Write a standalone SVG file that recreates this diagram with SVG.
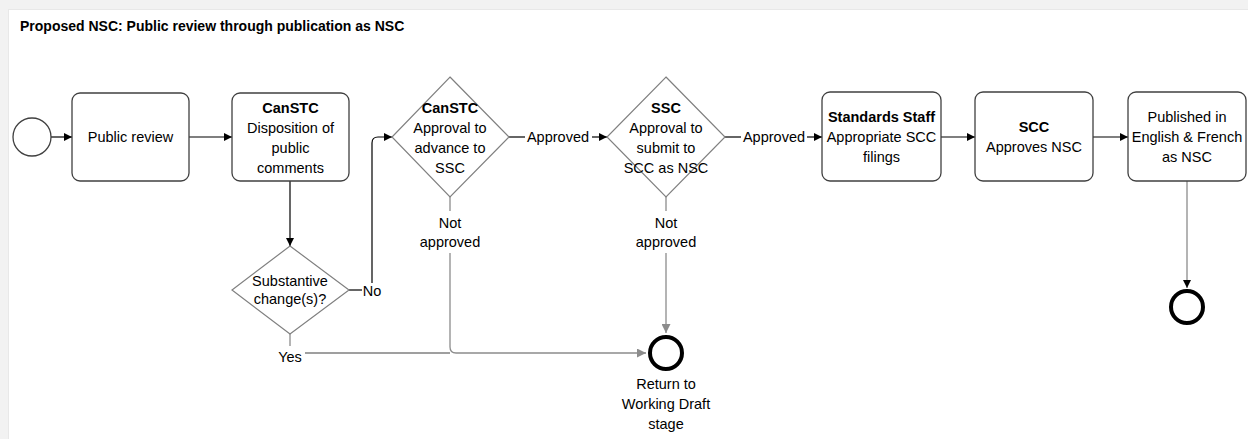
<svg xmlns="http://www.w3.org/2000/svg" width="1248" height="439" viewBox="0 0 1248 439">
<defs>
<style>
.t{font-family:"Liberation Sans",Arial,sans-serif;font-size:14.5px;fill:#000;text-anchor:middle}
.b{font-weight:bold}
.box{fill:#fff;stroke:#404040;stroke-width:1.3}
.dia{fill:#fff;stroke:#808080;stroke-width:1.2}
.c{fill:none;stroke:#000;stroke-width:1.2}
.g{fill:none;stroke:#8c8c8c;stroke-width:1.3}
</style>
<marker id="ah" viewBox="0 0 10 10" refX="10" refY="5" markerWidth="8" markerHeight="8" markerUnits="userSpaceOnUse" orient="auto"><path d="M0,0L10,5L0,10z" fill="#000"/></marker>
<marker id="ahg" viewBox="0 0 10 10" refX="10" refY="5" markerWidth="9" markerHeight="9" markerUnits="userSpaceOnUse" orient="auto"><path d="M0,0L10,5L0,10z" fill="#8c8c8c"/></marker>
</defs>
<rect x="0" y="0" width="1248" height="439" fill="#f2f2f2"/>
<rect x="8" y="9" width="1240" height="430" fill="#e8e8e8"/>
<rect x="9" y="10" width="1239" height="429" fill="#fff"/>
<text class="t b" x="20" y="31" style="text-anchor:start;font-size:14px">Proposed NSC: Public review through publication as NSC</text>

<g id="connectors">
<line class="c" x1="51" y1="137" x2="72" y2="137" marker-end="url(#ah)"/>
<line class="c" x1="189" y1="137" x2="232" y2="137" marker-end="url(#ah)"/>
<line class="c" x1="290" y1="181" x2="290" y2="246" marker-end="url(#ah)"/>
<line class="c" x1="349" y1="290" x2="362" y2="290"/>
<path class="c" d="M372,283 V143 Q372,137 378,137 H392" marker-end="url(#ah)"/>
<line class="c" x1="509" y1="137" x2="525" y2="137"/>
<line class="c" x1="592" y1="137" x2="607" y2="137" marker-end="url(#ah)"/>
<line class="c" x1="725" y1="137" x2="741" y2="137"/>
<line class="c" x1="807" y1="137" x2="822" y2="137" marker-end="url(#ah)"/>
<line class="c" x1="941" y1="137" x2="975" y2="137" marker-end="url(#ah)"/>
<line class="c" x1="1093" y1="137" x2="1128" y2="137" marker-end="url(#ah)"/>
<line class="g" x1="290" y1="334" x2="290" y2="346"/>
<line class="c" x1="305" y1="353" x2="450" y2="353" style="stroke:#404040"/>
<line class="g" x1="450" y1="197" x2="450" y2="211"/>
<path class="g" d="M450,253 V347 Q450,353 456,353 H646" marker-end="url(#ahg)"/>
<line class="g" x1="666" y1="197" x2="666" y2="211"/>
<line class="g" x1="666" y1="253" x2="666" y2="333" marker-end="url(#ahg)"/>
<line class="g" x1="1187" y1="181" x2="1187" y2="288" marker-end="url(#ah)"/>
</g>

<g id="start"><circle cx="32" cy="137" r="19" fill="#fff" stroke="#404040" stroke-width="1.3"/></g>

<g id="public-review">
<rect class="box" x="72" y="93" width="117" height="88" rx="8"/>
<text class="t" x="130.5" y="142">Public review</text>
</g>

<g id="canstc-disposition">
<rect class="box" x="232" y="93" width="117" height="88" rx="8"/>
<text class="t b" x="290.5" y="113">CanSTC</text>
<text class="t" x="290.5" y="133">Disposition of</text>
<text class="t" x="290.5" y="153">public</text>
<text class="t" x="290.5" y="173">comments</text>
</g>

<g id="substantive">
<polygon class="dia" points="290,246 349,290 290,334 232,290"/>
<text class="t" x="290" y="286">Substantive</text>
<text class="t" x="290" y="304">change(s)?</text>
</g>

<g id="canstc-approval">
<polygon class="dia" points="450,77 509,137 450,197 392,137"/>
<text class="t b" x="450" y="113">CanSTC</text>
<text class="t" x="450" y="133">Approval to</text>
<text class="t" x="450" y="153">advance to</text>
<text class="t" x="450" y="173">SSC</text>
</g>

<g id="ssc-approval">
<polygon class="dia" points="666,77 725,137 666,197 607,137"/>
<text class="t b" x="666" y="113">SSC</text>
<text class="t" x="666" y="133">Approval to</text>
<text class="t" x="666" y="153">submit to</text>
<text class="t" x="666" y="173">SCC as NSC</text>
</g>

<g id="standards-staff">
<rect class="box" x="822" y="92" width="119" height="89" rx="8"/>
<text class="t b" x="881.5" y="122">Standards Staff</text>
<text class="t" x="881.5" y="142">Appropriate SCC</text>
<text class="t" x="881.5" y="162">filings</text>
</g>

<g id="scc">
<rect class="box" x="975" y="92" width="118" height="89" rx="8"/>
<text class="t b" x="1034" y="132">SCC</text>
<text class="t" x="1034" y="152">Approves NSC</text>
</g>

<g id="published">
<rect class="box" x="1128" y="92" width="118" height="89" rx="8"/>
<text class="t" x="1187" y="122">Published in</text>
<text class="t" x="1187" y="142">English &amp; French</text>
<text class="t" x="1187" y="162">as NSC</text>
</g>

<g id="end-return">
<circle cx="666" cy="353" r="16" fill="#fff" stroke="#000" stroke-width="4"/>
<text class="t" x="666" y="389">Return to</text>
<text class="t" x="666" y="409">Working Draft</text>
<text class="t" x="666" y="429">stage</text>
</g>

<g id="end-published">
<circle cx="1187" cy="307" r="16" fill="#fff" stroke="#000" stroke-width="4"/>
</g>

<g id="labels">
<text class="t" x="558" y="142">Approved</text>
<text class="t" x="774" y="142">Approved</text>
<text class="t" x="372" y="296">No</text>
<text class="t" x="290" y="362">Yes</text>
<text class="t" x="450" y="228">Not</text>
<text class="t" x="450" y="247">approved</text>
<text class="t" x="666" y="228">Not</text>
<text class="t" x="666" y="247">approved</text>
</g>
</svg>
